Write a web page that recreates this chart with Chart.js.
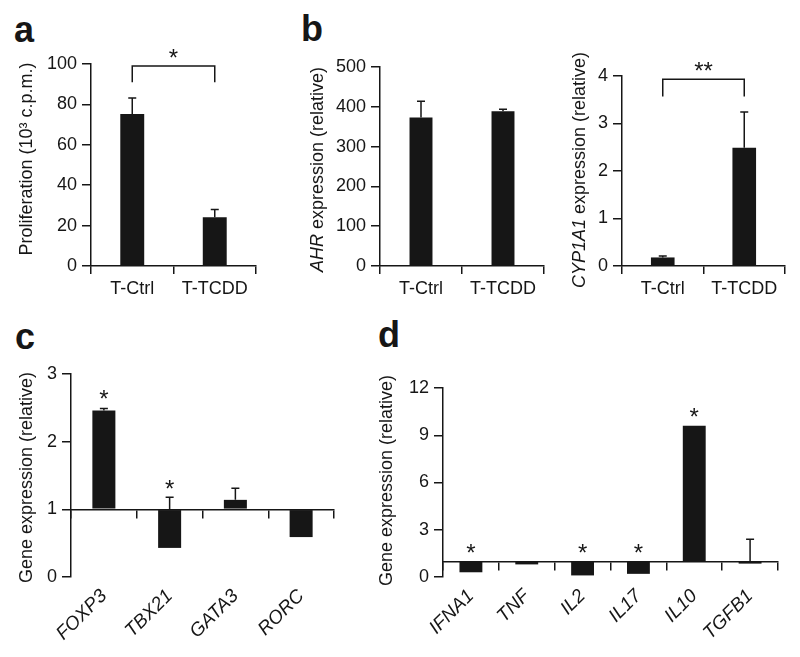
<!DOCTYPE html>
<html>
<head>
<meta charset="utf-8">
<script src="https://cdn.jsdelivr.net/npm/chart.js"></script>
<style>
  body { margin: 0; background: #fff; width: 800px; height: 657px; position: relative; overflow: hidden; }
  canvas { position: absolute; left: 0; top: 0; }
  .lbl { position: absolute; font: bold 36px "Liberation Sans", Arial, sans-serif; line-height: 1; color: #161616; }
</style>
</head>
<body>
<div class="lbl" style="left:14px;top:12px">a</div>
<div class="lbl" style="left:301px;top:11px">b</div>
<div class="lbl" style="left:15px;top:319px">c</div>
<div class="lbl" style="left:378px;top:317px">d</div>
<canvas id="chartA" width="800" height="657"></canvas>
<canvas id="chartB1" width="800" height="657"></canvas>
<canvas id="chartB2" width="800" height="657"></canvas>
<canvas id="chartC" width="800" height="657"></canvas>
<canvas id="chartD" width="800" height="657"></canvas>
<script>
// data
const groupLabels = ["T-Ctrl", "T-TCDD"];
const prolifValues = [75.2, 24.1];
const prolifErrTop = [83.2, 28];
const ahrValues = [373, 389];
const ahrErrTop = [414, 394];
const cypValues = [0.18, 2.49];
const cypErrTop = [0.21, 3.24];

const tfLabels = ["FOXP3", "TBX21", "GATA3", "RORC"];
const tfValues = [2.46, 0.43, 1.14, 0.59];
const tfErrTop = [2.49, 1.18, 1.31, null];
const tfStars = [2.71, 1.39, null, null];

const cytoLabels = ["IFNA1", "TNF", "IL2", "IL17", "IL10", "TGFB1"];
const cytoValues = [0.3, 0.8, 0.1, 0.2, 9.6, 0.85];
const cytoErrTop = [null, null, null, null, null, 2.4];
const cytoStars = [1.9, null, 1.9, 1.9, 10.5, null];

const INK = "#161616";
const FONT = "'Liberation Sans', Arial, sans-serif";
const H = 657, W = 800, YW = 60;

// rotated y title, parts can be italic
const yTitle = {
  id: "yTitle",
  afterDraw(chart, args, o) {
    const { ctx, chartArea } = chart;
    ctx.save();
    ctx.translate(chartArea.left - o.dx, (chartArea.top + chartArea.bottom) / 2 + o.dy);
    ctx.rotate(-Math.PI / 2);
    ctx.fillStyle = INK;
    ctx.textBaseline = "middle";
    const fonts = o.parts.map(p => (p[1] ? "italic " : "") + o.size + "px " + FONT);
    let total = 0;
    const ws = o.parts.map((p, i) => { ctx.font = fonts[i]; const w = ctx.measureText(p[0]).width; total += w; return w; });
    let x = -total / 2;
    o.parts.forEach((p, i) => { ctx.font = fonts[i]; ctx.fillText(p[0], x, 0); x += ws[i]; });
    ctx.restore();
  }
};

// error whiskers, stars and brackets
const marks = {
  id: "marks",
  afterDatasetsDraw(chart, args, o) {
    const { ctx } = chart;
    const xs = chart.scales.x, ys = chart.scales.y;
    const ds = chart.data.datasets[0];
    const meta = chart.getDatasetMeta(0);
    const base = ds.base ?? 0;
    ctx.save();
    ctx.strokeStyle = INK;
    ctx.fillStyle = INK;
    ctx.lineWidth = 1.5;
    (o.errTop || []).forEach((e, i) => {
      if (e == null) return;
      const x = meta.data[i].x;
      const y0 = ys.getPixelForValue(Math.max(ds.data[i], base));
      const y1 = ys.getPixelForValue(e);
      ctx.beginPath();
      ctx.moveTo(x, y0); ctx.lineTo(x, y1);
      ctx.moveTo(x - 4, y1); ctx.lineTo(x + 4, y1);
      ctx.stroke();
    });
    ctx.font = o.starSize + "px " + FONT;
    ctx.textAlign = "center";
    ctx.textBaseline = "alphabetic";
    (o.stars || []).forEach((s, i) => {
      if (s == null) return;
      ctx.fillText("*", xs.getPixelForValue(i), ys.getPixelForValue(s) + 0.575 * o.starSize);
    });
    if (o.bracket) {
      const [top, leg, starAt, txt] = o.bracket;
      const x0 = xs.getPixelForValue(0), x1 = xs.getPixelForValue(1);
      const yt = ys.getPixelForValue(top), yl = ys.getPixelForValue(leg);
      ctx.beginPath();
      ctx.moveTo(x0, yl); ctx.lineTo(x0, yt); ctx.lineTo(x1, yt); ctx.lineTo(x1, yl);
      ctx.stroke();
      ctx.fillText(txt, (x0 + x1) / 2, ys.getPixelForValue(starAt) + 0.575 * o.starSize);
    }
    ctx.restore();
  }
};

function axisGrid(len) {
  return { drawOnChartArea: false, drawTicks: true, tickLength: len, color: INK, lineWidth: 1.5 };
}

function makePanel(id, p) {
  const scales = {
    y: {
      min: p.yMin, max: p.yMax,
      ticks: { stepSize: p.step, color: INK, padding: 5, font: { family: FONT, size: 18 } },
      grid: axisGrid(9),
      border: { color: INK, width: 1.5 },
      afterFit: s => { s.width = YW; }
    }
  };
  if (p.base == null) {
    scales.x = {
      offset: true,
      grid: Object.assign(axisGrid(8), { offset: true }),
      border: { color: INK, width: 1.5 },
      ticks: { color: INK, padding: 4, maxRotation: 0, autoSkip: false, font: { family: FONT, size: 18 } },
      afterFit: s => { s.height = H - p.area.b; }
    };
  } else {
    scales.x = {
      position: { y: p.base },
      offset: true,
      grid: Object.assign(axisGrid(8), { offset: true }),
      border: { color: INK, width: 1.5 },
      ticks: { display: false }
    };
    scales.x2 = {
      type: "category",
      position: "bottom",
      labels: p.labels,
      offset: true,
      grid: { display: false },
      border: { display: false },
      ticks: { color: INK, padding: 0, minRotation: 45, maxRotation: 45, autoSkip: false, font: { family: FONT, size: 19, style: "italic" } },
      afterFit: s => { s.height = H - p.area.b; }
    };
  }
  new Chart(document.getElementById(id), {
    type: "bar",
    data: {
      labels: p.labels,
      datasets: [{
        data: p.values,
        base: p.base == null ? undefined : p.base,
        backgroundColor: INK,
        borderWidth: 0,
        barPercentage: p.barPct,
        categoryPercentage: 1
      }]
    },
    options: {
      responsive: false,
      animation: false,
      devicePixelRatio: 1,
      layout: { padding: { left: p.area.l - YW, top: p.area.t, right: W - p.area.r, bottom: 0 } },
      scales,
      plugins: {
        legend: { display: false },
        tooltip: { enabled: false },
        yTitle: { parts: p.title, size: 18, dx: p.titleDx, dy: p.titleDy },
        marks: { errTop: p.errTop, stars: p.stars, bracket: p.bracket, starSize: 24 }
      }
    },
    plugins: [yTitle, marks]
  });
}

makePanel("chartA", {
  labels: groupLabels, values: prolifValues, errTop: prolifErrTop,
  yMin: 0, yMax: 100, step: 20, barPct: 0.29,
  area: { l: 91, t: 64, r: 256, b: 266 },
  title: [["Proliferation (10³ c.p.m.)", false]], titleDx: 64, titleDy: -6,
  bracket: [99, 91, 106, "*"]
});

makePanel("chartB1", {
  labels: groupLabels, values: ahrValues, errTop: ahrErrTop,
  yMin: 0, yMax: 500, step: 100, barPct: 0.28,
  area: { l: 380, t: 67, r: 544, b: 266 },
  title: [["AHR", true], [" expression (relative)", false]], titleDx: 62, titleDy: 3
});

makePanel("chartB2", {
  labels: groupLabels, values: cypValues, errTop: cypErrTop,
  yMin: 0, yMax: 4, step: 1, barPct: 0.29,
  area: { l: 622, t: 76, r: 785, b: 266 },
  title: [["CYP1A1", true], [" expression (relative)", false]], titleDx: 42, titleDy: -1,
  bracket: [3.93, 3.57, 4.23, "**"]
});

makePanel("chartC", {
  labels: tfLabels, values: tfValues, errTop: tfErrTop, stars: tfStars, base: 1,
  yMin: 0, yMax: 3, step: 1, barPct: 0.35,
  area: { l: 71, t: 374, r: 334, b: 577 },
  title: [["Gene expression (relative)", false]], titleDx: 44, titleDy: 2
});

makePanel("chartD", {
  labels: cytoLabels, values: cytoValues, errTop: cytoErrTop, stars: cytoStars, base: 1,
  yMin: 0, yMax: 12, step: 3, barPct: 0.41,
  area: { l: 443, t: 388, r: 778, b: 577 },
  title: [["Gene expression (relative)", false]], titleDx: 56, titleDy: -2
});
</script>
</body>
</html>
